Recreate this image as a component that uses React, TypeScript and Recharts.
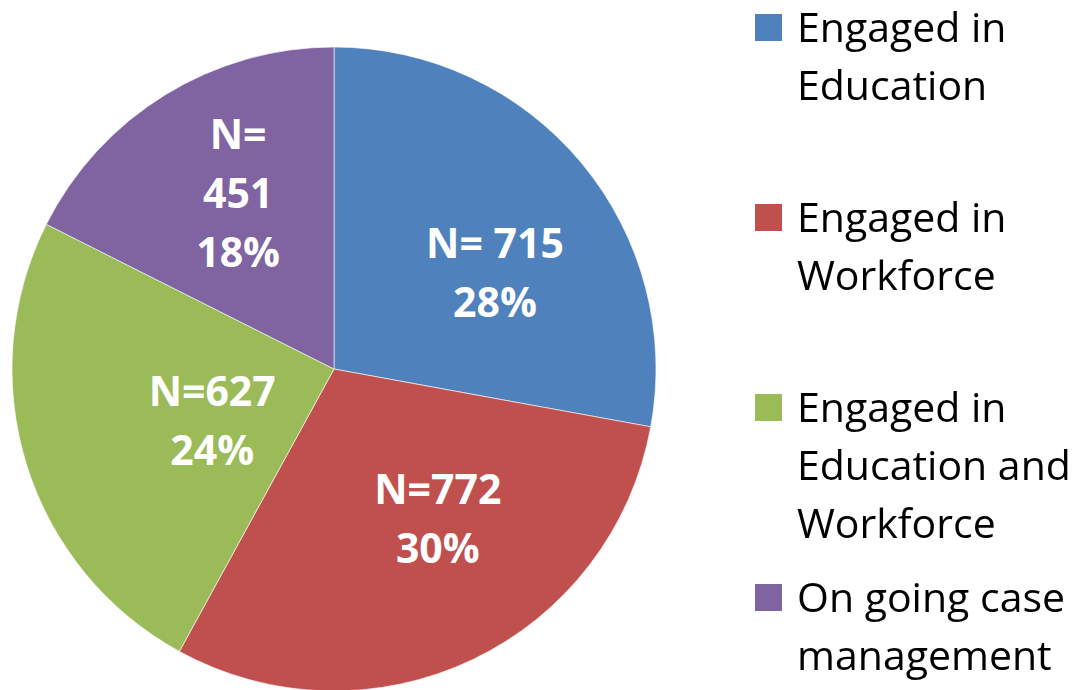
import React from 'react';
import { PieChart, Pie, Cell, Legend } from 'recharts';

const categories = [
    'Engaged in Education',
    'Engaged in Workforce',
    'Engaged in Education and Workforce',
    'On going case management',
];
// legend text as it wraps in the original
const legendLines = [
    ['Engaged in', 'Education'],
    ['Engaged in', 'Workforce'],
    ['Engaged in', 'Education and', 'Workforce'],
    ['On going case', 'management'],
];
const counts = [715, 772, 627, 451];
const countLabels = [['N= 715'], ['N=772'], ['N=627'], ['N=', '451']];
const colors = ['#4F81BD', '#C0504D', '#9BBB59', '#8064A2'];

const data = categories.map((name, i) => ({ name, value: counts[i] }));

const FONT = '"Open Sans", Lato, sans-serif';
const RAD = Math.PI / 180;

// where each label sits inside its slice (share of radius, angle nudge in degrees)
const labelSpots = [
    { r: 0.584, da: -8.7 },
    { r: 0.564, da: 9.4 },
    { r: 0.41, da: 5.4 },
    { r: 0.625, da: -3.2 },
];

const renderLabel = (props: any) => {
    const { cx, cy, midAngle, outerRadius, index, percent } = props;
    const spot = labelSpots[index];
    const ang = (midAngle + spot.da) * RAD;
    const x = cx + outerRadius * spot.r * Math.cos(ang);
    const y = cy - outerRadius * spot.r * Math.sin(ang);
    const lines = [...countLabels[index], `${Math.round(percent * 100)}%`];
    const lh = 59;
    const top = y - ((lines.length - 1) * lh) / 2;
    return (
        <text
            x={x}
            y={top}
            fill="#fff"
            fontFamily={FONT}
            fontWeight="bold"
            fontSize={41}
            textAnchor="middle"
            dominantBaseline="central"
        >
            {lines.map((l, i) => (
                <tspan key={i} x={x} y={top + i * lh}>{l}</tspan>
            ))}
        </text>
    );
};

const CustomLegend = () => (
    <div style={{ fontFamily: FONT, fontSize: 41, color: '#000', paddingTop: 0, marginTop: -3 }}>
        {legendLines.map((lines, i) => (
            <div key={i} style={{ position: 'relative', height: 190, paddingLeft: 42 }}>
                <div
                    style={{
                        position: 'absolute', left: 0, top: 17, width: 27, height: 27,
                        background: colors[i],
                    }}
                />
                {lines.map((l, j) => (
                    <div key={j} style={{ lineHeight: '58px', height: 58, whiteSpace: 'nowrap' }}>{l}</div>
                ))}
            </div>
        ))}
    </div>
);

const App: React.FC = () => {
    return (
        <div style={{ position: 'fixed', left: 0, top: 0, width: 1078, height: 690, background: '#fff' }}>
            <PieChart width={1078} height={690} margin={{ top: 0, right: 0, bottom: 0, left: 0 }}>
                <Pie
                    data={data}
                    dataKey="value"
                    nameKey="name"
                    cx={334}
                    cy={369}
                    outerRadius={322}
                    startAngle={90}
                    endAngle={-270}
                    stroke="#ffffff"
                    strokeWidth={0.6}
                    label={renderLabel}
                    labelLine={false}
                    isAnimationActive={false}
                >
                    {data.map((d, i) => (
                        <Cell key={d.name} fill={colors[i]} />
                    ))}
                </Pie>
                <Legend
                    layout="vertical"
                    verticalAlign="top"
                    align="right"
                    content={<CustomLegend />}
                    wrapperStyle={{ top: 0, left: 755, width: 323 }}
                />
            </PieChart>
        </div>
    );
};

export default App;
